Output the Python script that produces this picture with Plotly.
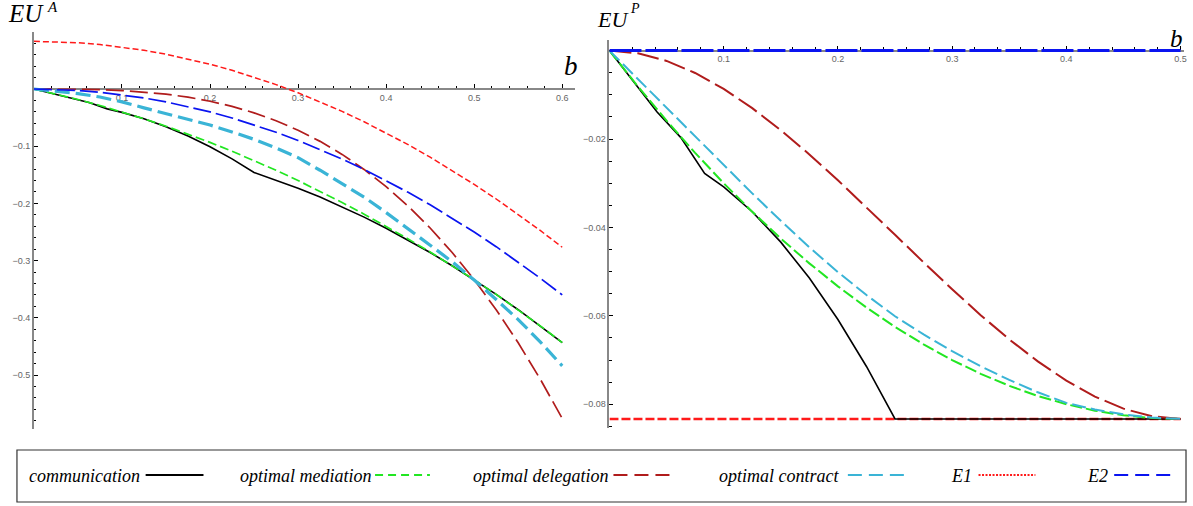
import plotly.graph_objects as go

# ---------------- data ----------------
# left panel: agent's expected utility EU^A vs b
b_left = [0, 0.025, 0.05, 0.075, 0.1, 0.125, 0.15, 0.175, 0.2, 0.225, 0.25, 0.275,
          0.3, 0.325, 0.35, 0.375, 0.4, 0.425, 0.45, 0.475, 0.5, 0.525, 0.55, 0.575, 0.6]
b_comm_left = [0, 0.0125, 0.025, 0.0417, 0.0625, 0.0833, 0.1, 0.125, 0.15, 0.175, 0.2, 0.225,
               0.25, 0.275, 0.3, 0.325, 0.35, 0.375, 0.4, 0.425, 0.45, 0.475, 0.5, 0.525,
               0.55, 0.575, 0.6]
comm_A = [0, -0.0043, -0.00896, -0.01562, -0.02359, -0.03472, -0.04083, -0.05208, -0.06583,
          -0.08208, -0.10083, -0.12208, -0.14583, -0.15896, -0.17333, -0.18896, -0.20583,
          -0.22396, -0.24333, -0.26396, -0.28583, -0.30896, -0.33333, -0.35896, -0.38583,
          -0.41396, -0.44333]
med_A = [0, -0.00875, -0.01833, -0.02875, -0.04, -0.05208, -0.065, -0.07875, -0.09333,
         -0.10875, -0.125, -0.14208, -0.16, -0.17875, -0.19833, -0.21875, -0.24, -0.26208,
         -0.285, -0.30875, -0.33333, -0.35896, -0.38583, -0.41396, -0.44333]
deleg_A = [0, -0.00004, -0.00033, -0.00113, -0.00267, -0.00521, -0.009, -0.01429, -0.02133,
           -0.03038, -0.04167, -0.05546, -0.072, -0.09154, -0.11433, -0.14063, -0.17067,
           -0.20471, -0.243, -0.28579, -0.33333, -0.38588, -0.44367, -0.50696, -0.576]
contract_A = [0, -0.0035, -0.008, -0.014, -0.0225, -0.033, -0.043, -0.0525, -0.063, -0.075,
              -0.088, -0.103, -0.12, -0.142, -0.165, -0.189, -0.216, -0.244, -0.273, -0.302,
              -0.334, -0.368, -0.403, -0.442, -0.484]
e1_A = [0.08333, 0.08271, 0.08083, 0.07771, 0.07333, 0.06771, 0.06083, 0.05271, 0.04333,
        0.03271, 0.02083, 0.00771, -0.00667, -0.02229, -0.03917, -0.05729, -0.07667,
        -0.09729, -0.11917, -0.14229, -0.16667, -0.19229, -0.21917, -0.24729, -0.27667]
e2_A = [0, -0.00063, -0.0025, -0.00563, -0.01, -0.01563, -0.0225, -0.03063, -0.04, -0.05063,
        -0.0625, -0.07563, -0.09, -0.10563, -0.1225, -0.14063, -0.16, -0.18063, -0.2025,
        -0.22563, -0.25, -0.27563, -0.3025, -0.33063, -0.36]

# right panel: principal's expected utility EU^P vs b
b_right = [0, 0.025, 0.05, 0.075, 0.1, 0.125, 0.15, 0.175, 0.2, 0.225, 0.25, 0.275, 0.3,
           0.325, 0.35, 0.375, 0.4, 0.425, 0.45, 0.475, 0.5]
b_comm_right = [0, 0.0125, 0.025, 0.0417, 0.0625, 0.0833, 0.1, 0.125, 0.15, 0.175, 0.2,
                0.225, 0.25, 0.5]
comm_P = [0, -0.00414, -0.00833, -0.01389, -0.01968, -0.02778, -0.03083, -0.03646, -0.04333,
          -0.05146, -0.06083, -0.07146, -0.08333, -0.08333]
med_P = [0, -0.00813, -0.01583, -0.02313, -0.03, -0.03646, -0.0425, -0.04813, -0.05333,
         -0.05813, -0.0625, -0.06646, -0.07, -0.07313, -0.07583, -0.07813, -0.08, -0.08146,
         -0.0825, -0.08313, -0.08333]
deleg_P = [0, -0.0006, -0.00233, -0.00506, -0.00867, -0.01302, -0.018, -0.02348, -0.02933,
           -0.03544, -0.04167, -0.0479, -0.054, -0.05985, -0.06533, -0.07031, -0.07467,
           -0.07827, -0.081, -0.08273, -0.08333]
contract_P = [0, -0.0065, -0.013, -0.0195, -0.026, -0.0323, -0.0385, -0.0445, -0.0501,
              -0.0553, -0.0601, -0.0642, -0.068, -0.0714, -0.0745, -0.0773, -0.0797, -0.0812,
              -0.0823, -0.083, -0.0833]
e1_P = [-0.08333] * len(b_right)
e2_P = [0] * len(b_right)

x_ticks_left = [0.1, 0.2, 0.3, 0.4, 0.5, 0.6]
y_ticks_left = [-0.5, -0.4, -0.3, -0.2, -0.1]
x_ticks_right = [0.1, 0.2, 0.3, 0.4, 0.5]
y_ticks_right = [-0.08, -0.06, -0.04, -0.02]

legend_names = ["communication", "optimal mediation", "optimal delegation",
                "optimal contract", "E1", "E2"]

# ---------------- styling ----------------
W, H = 1193, 506
C_COMM = "black"
C_MED = "#22e622"
C_DEL = "#b01c1c"
C_CON = "#3ab4d6"
C_E1 = "#ff1a1a"
C_E2 = "#0a14f0"


def px(x):
    return x / W


def py(y):
    return 1 - y / H


fig = go.Figure()

left = [
    (b_comm_left, comm_A, C_COMM, 1.6, "solid"),
    (b_left, med_A, C_MED, 1.7, "9px,4px"),
    (b_left, deleg_A, C_DEL, 1.7, "18px,6px"),
    (b_left, contract_A, C_CON, 3.2, "15px,6px"),
    (b_left, e1_A, C_E1, 1.5, "6px,3px"),
    (b_left, e2_A, C_E2, 1.7, "18px,5px"),
]
right = [
    (b_right, e1_P, C_E1, 2.4, "9px,3px"),
    (b_comm_right, comm_P, C_COMM, 1.6, "solid"),
    (b_right, med_P, C_MED, 2.0, "12px,4px"),
    (b_right, deleg_P, C_DEL, 2.0, "22px,6px"),
    (b_right, contract_P, C_CON, 2.0, "14px,5px"),
    (b_right, e2_P, C_E2, 3.0, "32px,4px"),
]
for xs, ys, c, w, d in left:
    fig.add_trace(go.Scatter(x=xs, y=ys, mode="lines", line=dict(color=c, width=w, dash=d),
                             showlegend=False, xaxis="x", yaxis="y", hoverinfo="skip"))
for xs, ys, c, w, d in right:
    fig.add_trace(go.Scatter(x=xs, y=ys, mode="lines", line=dict(color=c, width=w, dash=d),
                             showlegend=False, xaxis="x2", yaxis="y2", hoverinfo="skip"))

tickfont = dict(family="Liberation Sans, Arial", size=9, color="#666666")
axis_common = dict(showgrid=False, zeroline=False, showline=True, linecolor="#888888",
                   linewidth=1.6, ticks="inside", ticklen=4, tickwidth=1, tickcolor="black",
                   tickfont=tickfont, tickmode="array", layer="below traces")

fig.update_layout(
    width=W, height=H, margin=dict(l=0, r=0, t=0, b=0),
    paper_bgcolor="white", plot_bgcolor="rgba(0,0,0,0)",
    xaxis=dict(axis_common, domain=[px(34), px(576)], range=[0, 0.614], anchor="free",
               position=py(89), tickvals=x_ticks_left,
               minor=dict(tickmode="linear", tick0=0, dtick=0.02, ticks="inside",
                          ticklen=2.5, tickcolor="black")),
    yaxis=dict(axis_common, domain=[py(428.8), py(31.8)], range=[-0.594, 0.1], anchor="x",
               tickvals=y_ticks_left,
               minor=dict(tickmode="linear", tick0=0, dtick=0.02, ticks="inside",
                          ticklen=2.5, tickcolor="black")),
    xaxis2=dict(axis_common, domain=[px(611), px(1187)], range=[0, 0.503], anchor="free",
                position=py(50.6), tickvals=x_ticks_right,
                minor=dict(tickmode="linear", tick0=0, dtick=0.02, ticks="inside",
                           ticklen=2.5, tickcolor="black")),
    yaxis2=dict(axis_common, domain=[py(428.1), py(40)], range=[-0.0854, 0.0024], anchor="x2",
                tickvals=y_ticks_right,
                minor=dict(tickmode="linear", tick0=0, dtick=0.005, ticks="inside",
                           ticklen=2.5, tickcolor="black")),
)

serif = "Liberation Serif, Times New Roman, serif"
annotations = [
    dict(x=px(6), y=py(14), text="<i>EU</i>", xanchor="left", yanchor="middle",
         font=dict(family=serif, size=25, color="black")),
    dict(x=px(45), y=py(7), text="<i>A</i>", xanchor="left", yanchor="middle",
         font=dict(family=serif, size=15, color="black")),
    dict(x=px(596), y=py(20), text="<i>EU</i>", xanchor="left", yanchor="middle",
         font=dict(family=serif, size=22, color="black")),
    dict(x=px(630), y=py(8), text="<i>P</i>", xanchor="left", yanchor="middle",
         font=dict(family=serif, size=14, color="black")),
    dict(x=px(572), y=py(66), text="<i>b</i>", xanchor="center", yanchor="middle",
         font=dict(family=serif, size=27, color="black")),
    dict(x=px(1179), y=py(38), text="<i>b</i>", xanchor="center", yanchor="middle",
         font=dict(family=serif, size=25, color="black")),
]

# legend (text followed by line sample, as in the reference)
leg_y = 476
leg_items = [
    (legend_names[0], 27, 146, 204, C_COMM, "solid", 2.2),
    (legend_names[1], 239, 376, 431, C_MED, "8px,5px", 2.0),
    (legend_names[2], 472, 615, 672, C_DEL, "14px,7px", 2.2),
    (legend_names[3], 719, 850, 907, C_CON, "14px,7px", 2.2),
    (legend_names[4], 951, 981, 1038, C_E1, "2px,1.5px", 1.8),
    (legend_names[5], 1088, 1117, 1174, C_E2, "14px,7px", 2.2),
]
shapes = [dict(type="rect", xref="paper", yref="paper", x0=px(17), x1=px(1189),
               y0=py(502), y1=py(450), line=dict(color="#333333", width=1.2),
               fillcolor="rgba(0,0,0,0)")]
for name, tx, lx0, lx1, c, d, w in leg_items:
    annotations.append(dict(x=px(tx), y=py(leg_y), text="<i>%s</i>" % name,
                            xanchor="left", yanchor="middle", showarrow=False,
                            font=dict(family=serif, size=18, color="black")))
    shapes.append(dict(type="line", xref="paper", yref="paper", x0=px(lx0), x1=px(lx1),
                       y0=py(leg_y - 1), y1=py(leg_y - 1), line=dict(color=c, width=w, dash=d)))

for a in annotations:
    a.setdefault("showarrow", False)
    a["xref"] = "paper"
    a["yref"] = "paper"
fig.update_layout(annotations=annotations, shapes=shapes)

# the page's default 8px body margin would shift the figure; remove it
fig.write_html("out.html", config={"displayModeBar": False},
               post_script="document.body.style.margin='0px';"
                           "document.body.style.overflow='hidden';")
